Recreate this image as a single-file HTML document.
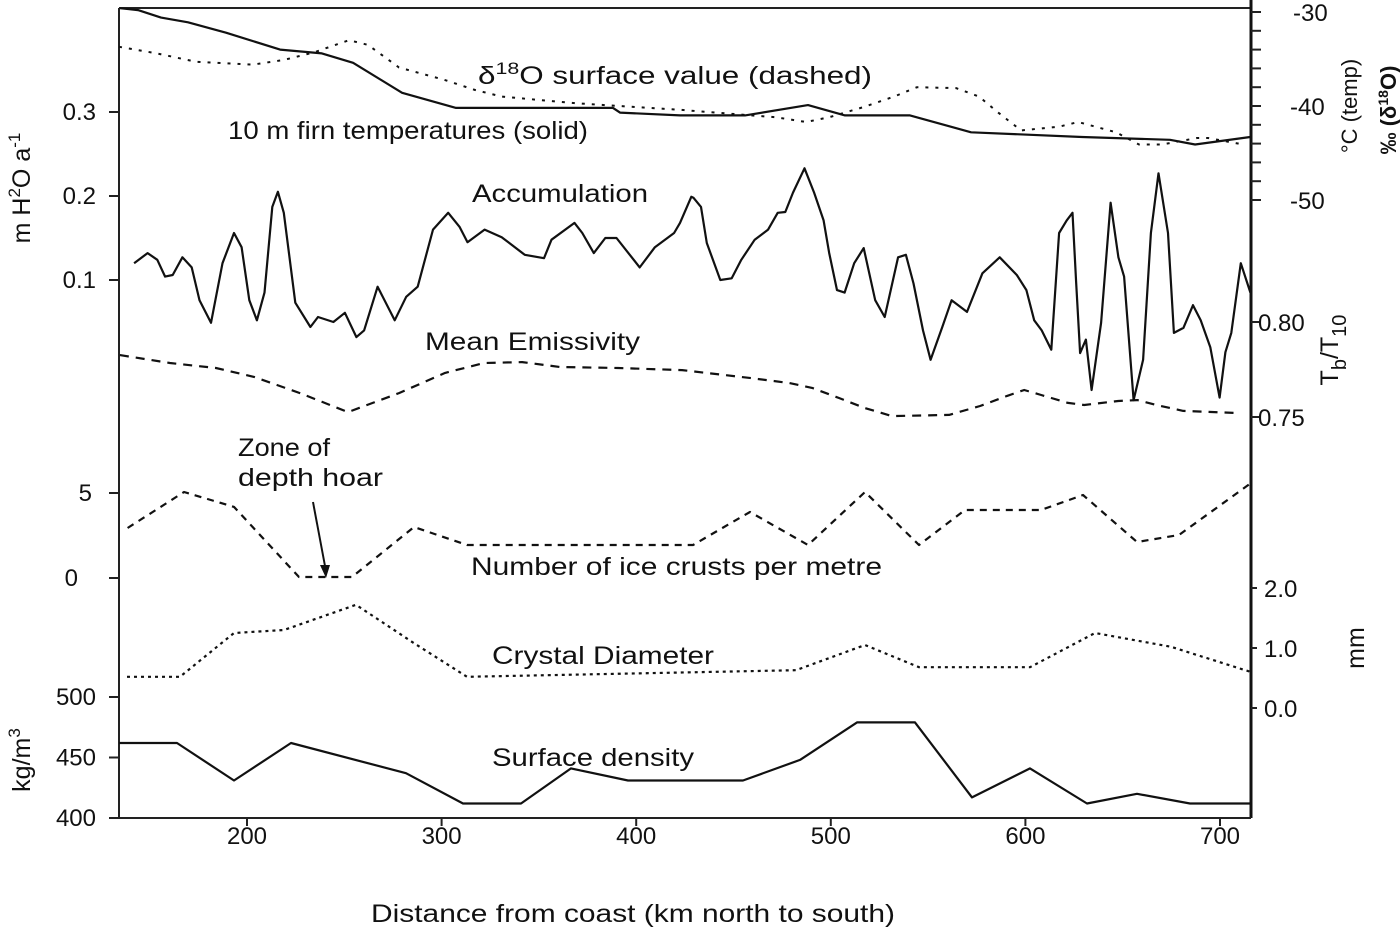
<!DOCTYPE html>
<html><head><meta charset="utf-8"><style>
html,body{margin:0;padding:0;background:#fff;}
svg{display:block;font-family:"Liberation Sans",sans-serif;}
text{fill:#111;}
</style></head><body>
<svg id="chart" width="1400" height="931" viewBox="0 0 1400 931">
<g id="axes"></g>
<g id="series"></g>
<g id="labels" font-size="25">
  <text x="478" y="84" textLength="394" lengthAdjust="spacingAndGlyphs">δ<tspan font-size="17" dy="-10">18</tspan><tspan dy="10">O surface value (dashed)</tspan></text>
  <text x="228" y="139" textLength="360" lengthAdjust="spacingAndGlyphs">10 m firn temperatures (solid)</text>
  <text x="472" y="202" textLength="176" lengthAdjust="spacingAndGlyphs">Accumulation</text>
  <text x="425" y="350" textLength="215" lengthAdjust="spacingAndGlyphs">Mean Emissivity</text>
  <text x="238" y="456" textLength="92" lengthAdjust="spacingAndGlyphs">Zone of</text>
  <text x="238" y="486" textLength="145" lengthAdjust="spacingAndGlyphs">depth hoar</text>
  <text x="471" y="575" textLength="411" lengthAdjust="spacingAndGlyphs">Number of ice crusts per metre</text>
  <text x="492" y="664" textLength="222" lengthAdjust="spacingAndGlyphs">Crystal Diameter</text>
  <text x="492" y="766" textLength="202" lengthAdjust="spacingAndGlyphs">Surface density</text>
  <line x1="313" y1="502" x2="325" y2="566" stroke="#111" stroke-width="2"/>
  <polygon points="320,565 330,565 326,578" fill="#111"/>
  <text x="633" y="922" text-anchor="middle" textLength="524" lengthAdjust="spacingAndGlyphs">Distance from coast (km north to south)</text>
  <text transform="translate(30,188) rotate(-90)" text-anchor="middle">m H<tspan font-size="17" dy="-10">2</tspan><tspan dy="10">O a</tspan><tspan font-size="17" dy="-10">-1</tspan></text>
  <text transform="translate(30,760) rotate(-90)" text-anchor="middle">kg/m<tspan font-size="17" dy="-10">3</tspan></text>
  <text transform="translate(1357,106) rotate(-90)" text-anchor="middle" font-size="22">°C (temp)</text>
  <text transform="translate(1396,110) rotate(-90)" text-anchor="middle" font-size="22" font-weight="bold">‰ (δ<tspan font-size="14" dy="-8">18</tspan><tspan dy="8">O)</tspan></text>
  <text transform="translate(1338,350) rotate(-90)" text-anchor="middle">T<tspan font-size="20" dy="8">b</tspan><tspan dy="-8">/T</tspan><tspan font-size="20" dy="8">10</tspan></text>
  <text transform="translate(1364,648) rotate(-90)" text-anchor="middle">mm</text>
</g>
</svg>
<script>
// ---- data ----
const xTicks = [200, 300, 400, 500, 600, 700];
const firnKm = [134.7,144.0,155.8,169.7,189.2,217.0,238.5,254.5,279.7,307.4,388.1,391.7,422.5,455.9,488.3,507.3,540.7,572.1,629.1,674.3,687.2,715.5];
const firnTemp = [-29.6,-29.8,-30.6,-31.1,-32.2,-34.0,-34.4,-35.4,-38.6,-40.2,-40.2,-40.7,-41.0,-41.0,-39.9,-41.0,-41.0,-42.8,-43.3,-43.6,-44.1,-43.3];
const d18Km = [134.2,153.7,173.8,203.1,219.0,234.4,252.4,262.2,278.1,301.2,317.2,331.0,368.6,422.5,471.9,487.3,499.1,517.1,532.5,544.3,564.4,576.2,586.0,597.8,617.3,627.1,646.6,658.4,670.2,688.2,693.9,711.9];
const d18Val = [-33.7,-34.4,-35.3,-35.6,-35.1,-34.3,-33.0,-33.5,-35.9,-37.2,-38.3,-39.0,-39.7,-40.4,-41.2,-41.7,-41.2,-40.1,-39.0,-38.0,-38.1,-39.0,-40.7,-42.6,-42.2,-41.7,-42.8,-44.1,-44.1,-43.4,-43.4,-44.1];
const accKm = [142.0,148.9,153.9,157.9,161.8,166.8,171.6,175.6,181.5,187.4,193.3,197.2,201.2,205.1,209.0,213.0,215.9,218.9,224.8,232.6,236.5,244.4,250.3,256.2,260.2,267.1,275.9,281.8,287.7,295.6,303.4,309.3,313.3,322.1,330.9,342.7,352.6,356.5,368.3,372.3,378.2,384.1,389.9,401.8,409.6,419.5,422.5,428.3,429.4,433.3,436.3,443.2,449.1,454.0,460.9,467.8,472.7,476.6,480.6,486.5,491.4,496.3,499.2,503.2,507.1,512.0,516.9,522.8,527.7,534.6,538.6,542.5,547.4,551.3,557.3,562.1,570.0,577.9,586.8,595.6,600.5,604.5,608.4,613.3,617.3,621.2,624.2,626.1,628.1,631.1,634.0,638.9,643.8,647.8,650.7,655.6,660.5,664.5,668.4,673.3,676.3,681.2,686.1,690.1,695.0,699.8,702.8,705.8,710.7,715.6];
const accVal = [.120,.132,.124,.104,.106,.127,.115,.076,.049,.120,.156,.139,.076,.052,.085,.187,.205,.180,.073,.044,.056,.050,.061,.032,.040,.092,.052,.080,.092,.160,.180,.163,.145,.160,.151,.130,.126,.148,.168,.156,.132,.150,.150,.115,.139,.156,.168,.199,.198,.187,.144,.100,.102,.124,.148,.160,.180,.181,.204,.233,.204,.171,.132,.088,.085,.120,.138,.076,.056,.127,.130,.096,.040,.005,.044,.076,.062,.108,.127,.106,.088,.052,.040,.017,.156,.171,.180,.096,.013,.029,-.031,.049,.192,.127,.104,-.043,.005,.156,.227,.156,.037,.043,.070,.052,.020,-.040,.014,.037,.120,.085];
const emiKm = [134.7,160.4,184.0,203.6,227.2,251.9,278.1,301.8,321.8,341.4,360.9,390.7,423.6,445.2,459.0,478.6,490.4,504.2,517.6,531.5,560.8,576.7,590.6,599.4,608.1,621.9,630.2,647.7,657.5,667.2,681.1,708.8];
const emiVal = [.7826,.7784,.7758,.7711,.7626,.7526,.7626,.7732,.7784,.7789,.7763,.7758,.7747,.7721,.7705,.7679,.7653,.7600,.7547,.7505,.7511,.7558,.7611,.7642,.7616,.7574,.7563,.7584,.7589,.7563,.7532,.7521];
const iceKm = [127.6,184,234,299,352,414,467,693,750,808,865,919,965,1041,1083,1137,1179,1251];
const iceVal = [2.94,5.06,4.18,0.06,0.06,3.0,1.94,1.94,3.88,1.94,5.06,1.94,4.0,4.0,4.88,2.12,2.53,5.59];
const cryKm = [127,180,234,284,356,414,467,796,865,919,1030,1095,1171,1251];
const cryVal = [0.52,0.52,1.25,1.30,1.72,1.08,0.52,0.63,1.05,0.68,0.68,1.25,1.02,0.60];
const denKm = [119,177,234,291,406,463,521,571,628,743,800,857,915,972,1030,1087,1137,1190,1251];
const denVal = [462,462,431,462,437,412,412,441,431,431,448,479,479,417,441,412,420,412,412];

// ---- scales ----
const X0 = 119, X1 = 1251, YT = 8, YB = 818;
function kmToX(km){ return 247 + (km - 200) * 1.946; }
function pxToKm(px){ return 200 + (px - 247) / 1.946; }
function yTemp(t){ return 12 + (-30 - t) * 9.4; }
function yAcc(v){ return 280 - (v - 0.1) * 840; }
function yEmi(e){ return 322 + (0.80 - e) * 1900; }
function yIce(n){ return 578 - n * 17; }
function yMm(d){ return 708 - d * 60; }
function yDen(r){ return 697 + (500 - r) * 1.21; }

const NS = "http://www.w3.org/2000/svg";
const axes = document.getElementById('axes');
const series = document.getElementById('series');
function mk(tag, attrs, parent){ const e = document.createElementNS(NS, tag); for (const k in attrs) e.setAttribute(k, attrs[k]); parent.appendChild(e); return e; }

let l;
l = mk('line', {x1:X0,y1:YT,x2:X1,y2:YT,stroke:'#222','stroke-width':2}, axes);


l = mk('line', {x1:X0,y1:YT,x2:X0,y2:YB,stroke:'#222','stroke-width':2}, axes);


l = mk('line', {x1:X1,y1:0,x2:X1,y2:YB,stroke:'#111','stroke-width':3}, axes);


l = mk('line', {x1:X0,y1:YB,x2:X1,y2:YB,stroke:'#222','stroke-width':2}, axes);



xTicks.forEach(k => {
  const x = kmToX(k);
  const t = mk('line', {x1:x,y1:YB,x2:x,y2:YB+8,stroke:'#222','stroke-width':2}, axes);
  
  
  const tx = mk('text', {x:x,y:YB+26,'text-anchor':'middle','font-size':24}, axes);
  tx.textContent = k;
  
  
});

function leftTick(y, label, lx){
  const t = mk('line', {x1:X0-10,y1:y,x2:X0,y2:y,stroke:'#222','stroke-width':2}, axes);
  
  
  const tx = mk('text', {x:lx,y:y+8,'text-anchor':'end','font-size':24}, axes);
  tx.textContent = label;
  
  
}
const accTicks = [0.1, 0.2, 0.3];
accTicks.forEach(v => leftTick(yAcc(v), v.toFixed(1), 96));
const iceTicks = [0, 5];
iceTicks.forEach(v => leftTick(yIce(v), String(v), v === 0 ? 78 : 92));
const denTicks = [400, 450, 500];
denTicks.forEach(v => leftTick(yDen(v), String(v), 96));

function rightTick(y, label, lx, len){
  const t = mk('line', {x1:X1,y1:y,x2:X1+len,y2:y,stroke:'#222','stroke-width':2}, axes);
  
  
  if (label !== null){
    const tx = mk('text', {x:lx,y:y+9,'font-size':24}, axes);
    tx.textContent = label;
    
    
  }
}
const tempTicks = [-30,-32,-34,-36,-38,-40,-42,-44,-46,-48,-50];
tempTicks.forEach(t => rightTick(yTemp(t), (t % 10 === 0) ? String(t) : null, t === -30 ? 1293 : 1290, 10));
const emiTicks = [0.75, 0.80];
emiTicks.forEach(e => rightTick(yEmi(e), e.toFixed(2), 1258, 8));
const mmTicks = [0, 1, 2];
mmTicks.forEach(d => rightTick(yMm(d), d.toFixed(1), 1264, 6));

function drawLine(xs, ys, yf, style, name){
  const pts = xs.map((k, i) => kmToX(k).toFixed(1) + ',' + yf(ys[i]).toFixed(1)).join(' ');
  const p = mk('polyline', Object.assign({points:pts, fill:'none', stroke:'#111', 'stroke-linejoin':'round'}, style), series);
  
  
}
drawLine(firnKm, firnTemp, yTemp, {'stroke-width':2.2}, 'firn-temperature-line');
drawLine(d18Km, d18Val, yTemp, {'stroke-width':2,'stroke-dasharray':'3 7'}, 'd18o-line');
drawLine(accKm, accVal, yAcc, {'stroke-width':2.2}, 'accumulation-line');
drawLine(emiKm, emiVal, yEmi, {'stroke-width':2.2,'stroke-dasharray':'9 7'}, 'emissivity-line');
drawLine(iceKm.map(pxToKm), iceVal, yIce, {'stroke-width':2.2,'stroke-dasharray':'7 6'}, 'ice-crusts-line');
drawLine(cryKm.map(pxToKm), cryVal, yMm, {'stroke-width':2.2,'stroke-dasharray':'3 4'}, 'crystal-diameter-line');
drawLine(denKm.map(pxToKm), denVal, yDen, {'stroke-width':2.2}, 'surface-density-line');
</script>
</body></html>
